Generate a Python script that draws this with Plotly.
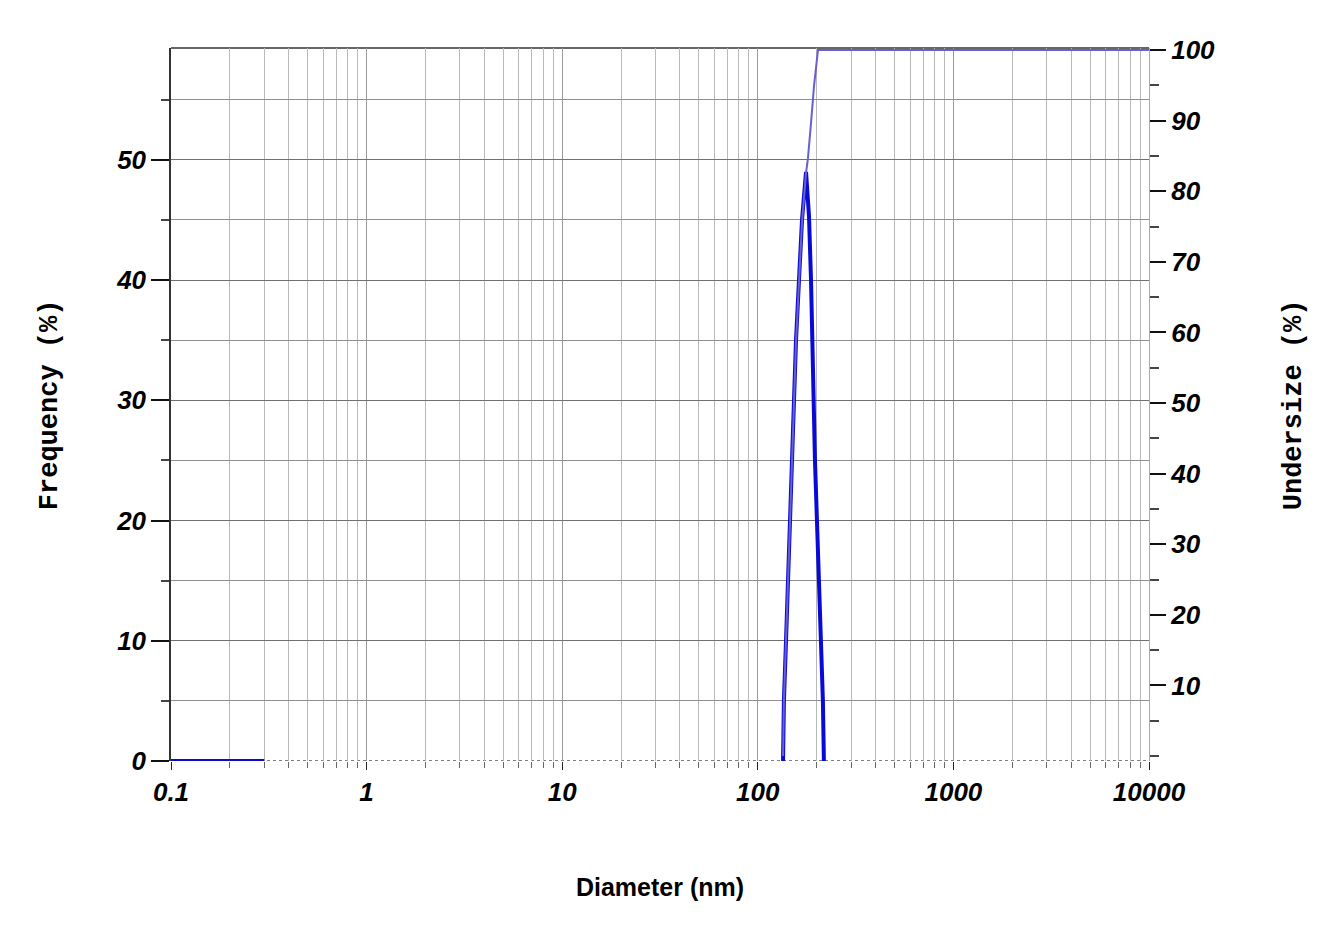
import plotly.graph_objects as go

# ---- data ----
freq_diam = [0.1, 0.3, None, 134.6, 136.0, 139.4, 142.7, 146.1, 149.6, 153.1, 156.8, 162.4, 168.3, 176.4,
             182.7, 187.1, 189.3, 191.5, 196.0, 200.6, 205.4, 210.3, 215.2, 217.7]
freq_vals = [0, 0, None, 0, 5, 10, 15, 20, 25, 30, 35, 40, 45, 49,
             45.3, 40, 35, 30, 25, 20, 15, 10, 5, 0]

cum_diam = [134.6, 136.0, 142.7, 149.6, 153.1, 156.8, 162.4, 168.3, 176.4, 180.5, 187.1, 193.8, 203.0, 10000]
cum_vals = [0, 7.8, 24.7, 41.7, 50.1, 58.6, 67.1, 75.6, 82.6, 84.7, 89.7, 94.9, 100, 100]

x_tickvals = [0.1, 1, 10, 100, 1000, 10000]
x_ticktext = ["0.1", "1", "10", "100", "1000", "10000"]
y_tickvals = [0, 10, 20, 30, 40, 50]
y2_tickvals = [10, 20, 30, 40, 50, 60, 70, 80, 90, 100]

tickfont = dict(family="Liberation Sans", size=26, color="black", weight="bold", style="italic")

fig = go.Figure()
fig.add_trace(go.Scatter(x=freq_diam, y=freq_vals, mode="lines",
                         line=dict(color="#0a0ad8", width=4), yaxis="y", showlegend=False))
fig.add_trace(go.Scatter(x=cum_diam, y=cum_vals, mode="lines",
                         line=dict(color="#6a5fd0", width=2), yaxis="y2", showlegend=False))

fig.update_layout(
    width=1322, height=931,
    margin=dict(l=163, r=181, t=40, b=178),
    paper_bgcolor="white", plot_bgcolor="white",
    xaxis=dict(type="log", range=[-1, 4], tickvals=x_tickvals, ticktext=x_ticktext,
               tickfont=tickfont, ticks="outside", ticklen=8, tickcolor="#222",
               showgrid=True, gridcolor="#9a9a9a", gridwidth=1,
               minor=dict(dtick="D1", ticks="outside", ticklen=6, tickcolor="#666",
                          showgrid=True, gridcolor="#b8b8b8", gridwidth=1),
               showline=False, zeroline=False,
               title=dict(text="Diameter (nm)", standoff=72,
                          font=dict(family="Liberation Sans", size=25, color="black", weight="bold"))),
    yaxis=dict(range=[0, 59.3], tickvals=y_tickvals, tickfont=tickfont,
               ticks="outside", ticklen=18, tickcolor="#111", tickwidth=2,
               showgrid=True, gridcolor="#707070", gridwidth=1,
               minor=dict(dtick=5, tick0=0, ticks="outside", ticklen=8, tickcolor="#444",
                          showgrid=True, gridcolor="#909090"),
               showline=True, linecolor="#333", linewidth=1.5, zeroline=False),
    yaxis2=dict(range=[-0.7, 100.3], overlaying="y", side="right", tickvals=y2_tickvals,
                tickfont=tickfont, ticks="outside", ticklen=16, tickcolor="#111", tickwidth=2,
                minor=dict(dtick=5, tick0=0, ticks="outside", ticklen=9, tickcolor="#444"),
                showgrid=False, showline=True, linecolor="#aaaaaa", linewidth=1, zeroline=False),
    shapes=[
        dict(type="line", xref="paper", yref="paper", x0=0, x1=1, y0=1, y1=1,
             line=dict(color="#333", width=1.5), layer="below"),
        dict(type="line", xref="paper", yref="y", x0=0, x1=1, y0=0, y1=0,
             line=dict(color="#555", width=1.5, dash="dot"), layer="below"),
    ],
    annotations=[
        dict(text="Frequency (%)", xref="paper", yref="paper", x=-0.124, y=0.5,
             textangle=-90, showarrow=False, xanchor="center", yanchor="middle",
             font=dict(family="Liberation Mono", size=27, color="black", weight="bold")),
        dict(text="Undersize (%)", xref="paper", yref="paper", x=1.148, y=0.5,
             textangle=-90, showarrow=False, xanchor="center", yanchor="middle",
             font=dict(family="Liberation Mono", size=27, color="black", weight="bold")),
    ],
)

fig.write_html("out.html")
